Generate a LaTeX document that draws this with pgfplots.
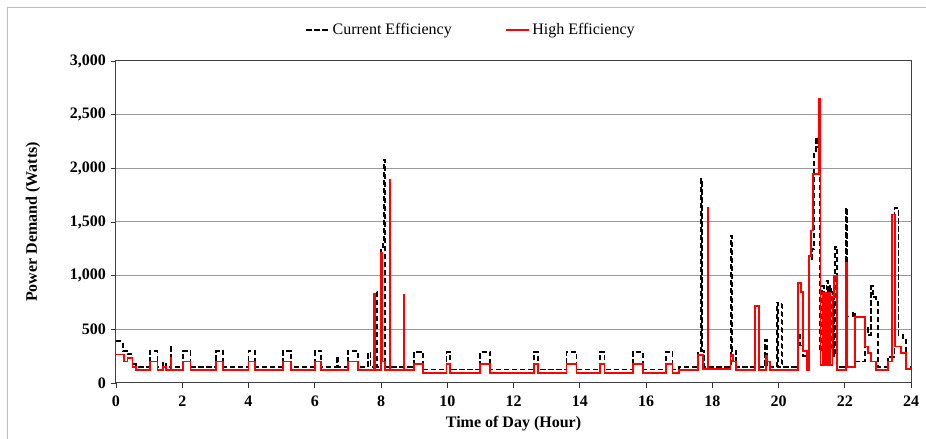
\documentclass[border=0pt]{standalone}
\usepackage{pgfplots}
\pgfplotsset{compat=1.18}
\usepackage{pgfplotstable}
\usepackage{fontspec}
\setmainfont{Liberation Serif}

\pgfplotstableread{
h w
0 390
0.2 300
0.35 270
0.5 180
0.6 150
1.03 300
1.25 150
1.42 190
1.5 150
1.65 350
1.67 150
2.02 300
2.25 150
3.02 300
3.23 150
4.0 300
4.2 150
5.03 300
5.28 150
6.0 300
6.2 150
6.68 250
6.7 150
7.0 300
7.3 150
7.6 280
7.68 150
7.83 850
7.88 150
8.0 1240
8.06 1300
8.08 2080
8.11 150
9.0 290
9.27 125
9.98 290
10.08 125
11.0 290
11.3 125
12.63 290
12.75 125
13.6 290
13.9 125
14.6 290
14.75 125
15.6 290
15.9 125
16.6 290
16.8 125
17.0 150
17.58 300
17.66 1900
17.69 300
17.75 150
18.56 1370
18.59 300
18.72 150
19.6 400
19.65 150
19.96 750
19.99 150
20.09 750
20.12 150
20.6 450
20.65 350
20.75 250
20.85 150
20.92 1150
21.0 1250
21.07 2150
21.12 2280
21.2 2200
21.25 300
21.32 900
21.38 200
21.45 950
21.5 250
21.55 900
21.6 300
21.64 850
21.68 250
21.7 1270
21.77 150
22.04 1630
22.07 620
22.25 660
22.3 200
22.6 520
22.7 450
22.8 900
22.85 800
22.95 770
23.0 150
23.3 245
23.5 1630
23.62 450
23.75 400
23.85 150
24 150
}\current

\pgfplotstableread{
h w
0 265
0.25 200
0.35 230
0.5 150
0.6 120
1.03 200
1.25 120
1.42 150
1.5 120
1.65 230
1.67 120
2.02 200
2.25 120
3.02 200
3.23 120
4.0 200
4.2 120
5.03 200
5.28 120
6.0 200
6.2 120
7.0 200
7.3 120
7.78 830
7.81 120
8.0 1210
8.03 200
8.12 120
8.26 1890
8.28 120
8.68 820
8.7 120
9.0 180
9.27 95
9.98 180
10.08 95
11.0 180
11.3 95
12.63 180
12.75 95
13.6 180
13.9 95
14.6 180
14.75 95
15.6 180
15.9 95
16.6 180
16.8 95
17.0 120
17.58 260
17.72 130
17.86 1630
17.88 130
18.55 260
18.62 200
18.72 120
19.3 720
19.4 120
19.62 250
19.67 200
19.75 120
20.6 930
20.68 850
20.75 300
20.85 120
20.92 1180
20.97 1420
21.05 1950
21.22 2650
21.27 170
21.33 840
21.37 170
21.43 840
21.47 170
21.53 840
21.57 170
21.63 800
21.68 1000
21.77 120
22.04 1120
22.07 150
22.3 615
22.6 340
22.7 280
22.8 200
22.95 120
23.3 200
23.42 1570
23.52 340
23.7 280
23.85 130
24 130
}\high

\begin{document}
\begin{tikzpicture}
\useasboundingbox (0,0) rectangle (694.5pt,329.25pt);
\draw[black!25, line width=0.75pt] (5.25pt,323.25pt) rectangle (720pt,-20pt);
\begin{axis}[
  at={(87pt,42pt)}, anchor=south west,
  scale only axis, width=596.25pt, height=241.5pt,
  xmin=0, xmax=24, ymin=0, ymax=3000,
  xtick={0,2,...,24}, ytick={0,500,...,3000},
  xtick pos=left, ytick pos=left, tick align=outside,
  major tick length=4pt,
  tick style={black!80, line width=0.6pt},
  axis line style={black!75, line width=0.75pt},
  ymajorgrids, grid style={black!40, line width=0.75pt},
  /pgf/number format/assume math mode=true,
  /pgf/number format/.cd, 1000 sep={,}, /pgfplots/.cd,
  ticklabel style={font=\fontsize{12}{14}\selectfont\bfseries},
  xticklabel style={yshift=-2pt},
  xlabel={Time of Day (Hour)}, ylabel={Power Demand (Watts)},
  every axis x label/.style={at={(axis description cs:0.5,-0.127)}, anchor=center, font=\fontsize{12}{14}\selectfont\bfseries},
  every axis y label/.style={at={(axis description cs:-0.1044,0.5)}, anchor=center, rotate=90, font=\fontsize{12}{14}\selectfont\bfseries},
  legend columns=2,
  legend style={at={(0.447,1.096)}, anchor=center, draw=none, fill=none,
    font=\fontsize{12}{14}\selectfont, /tikz/every even column/.append style={column sep=38pt}},
  legend image code/.code={\draw[#1] (0pt,0pt) -- (17pt,0pt);},
]
\addplot[const plot, black, line width=1.35pt, dash pattern=on 4pt off 2pt] table[x=h,y=w] {\current};
\addlegendentry{Current Efficiency}
\addplot[const plot, red, line width=1.35pt] table[x=h,y=w] {\high};
\addlegendentry{High Efficiency}
\end{axis}
\end{tikzpicture}
\end{document}
